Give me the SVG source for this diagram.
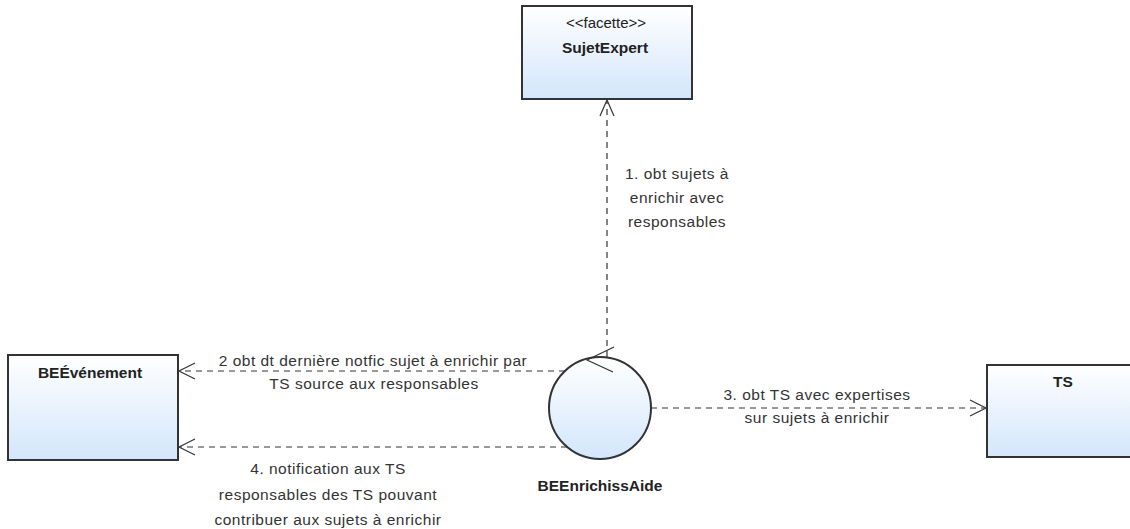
<svg xmlns="http://www.w3.org/2000/svg" width="1130" height="529" viewBox="0 0 1130 529">
<defs>
<linearGradient id="fill" x1="0" y1="0" x2="0" y2="1">
<stop offset="0" stop-color="#ffffff"/>
<stop offset="1" stop-color="#d3e6fb"/>
</linearGradient>
<style>
.node{fill:url(#fill);stroke:#333;stroke-width:2}
.name{font-family:"Liberation Sans",Arial,sans-serif;font-weight:bold;font-size:15.5px;fill:#222;text-anchor:middle}
.stereo{font-family:"Liberation Sans",Arial,sans-serif;font-size:15px;fill:#222;text-anchor:middle}
.lbl{font-family:"Liberation Sans",Arial,sans-serif;font-size:15.5px;letter-spacing:0.5px;fill:#333;text-anchor:middle}
.dash{fill:none;stroke:#333;stroke-width:1.2;stroke-dasharray:6,5}
.head{fill:none;stroke:#333;stroke-width:1.2}
</style>
</defs>
<rect width="1130" height="529" fill="#fff"/>
<g id="SujetExpert">
<rect class="node" x="522" y="6" width="170" height="93"/>
<text class="stereo" x="606" y="28">&lt;&lt;facette&gt;&gt;</text>
<text class="name" x="605" y="53">SujetExpert</text>
</g>
<g id="BEEvenement">
<rect class="node" x="8" y="355" width="170" height="105"/>
<text class="name" x="90" y="378">BEÉvénement</text>
</g>
<g id="TS">
<rect class="node" x="987" y="365" width="152" height="92"/>
<text class="name" x="1063" y="387">TS</text>
</g>
<g id="BEEnrichissAide">
<circle class="node" cx="600" cy="408" r="51"/>
<text class="name" x="600" y="491">BEEnrichissAide</text>
</g>
<g id="connectors">
<line class="dash" x1="607" y1="357" x2="607" y2="101"/>
<polyline class="head" points="600,116 607,100 614,116"/>
<polyline class="head" points="614,347 587,360 613,372"/>
<line class="dash" x1="565" y1="371" x2="180" y2="371"/>
<polyline class="head" points="195,363 179,371 195,379"/>
<line class="dash" x1="567" y1="447" x2="180" y2="447"/>
<polyline class="head" points="195,439 179,447 195,455"/>
<line class="dash" x1="651" y1="408" x2="985" y2="408"/>
<polyline class="head" points="970,400 986,408 970,416"/>
<text class="lbl" x="677" y="179">1. obt sujets à</text>
<text class="lbl" x="677" y="203">enrichir avec</text>
<text class="lbl" x="677" y="227">responsables</text>
<text class="lbl" x="373" y="366">2 obt dt dernière notfic sujet à enrichir par</text>
<text class="lbl" x="374" y="389">TS source aux responsables</text>
<text class="lbl" x="817" y="400">3. obt TS avec expertises</text>
<text class="lbl" x="817" y="423">sur sujets à enrichir</text>
<text class="lbl" x="328" y="474">4. notification aux TS</text>
<text class="lbl" x="328" y="500">responsables des TS pouvant</text>
<text class="lbl" x="328" y="525">contribuer aux sujets à enrichir</text>
</g>
</svg>
